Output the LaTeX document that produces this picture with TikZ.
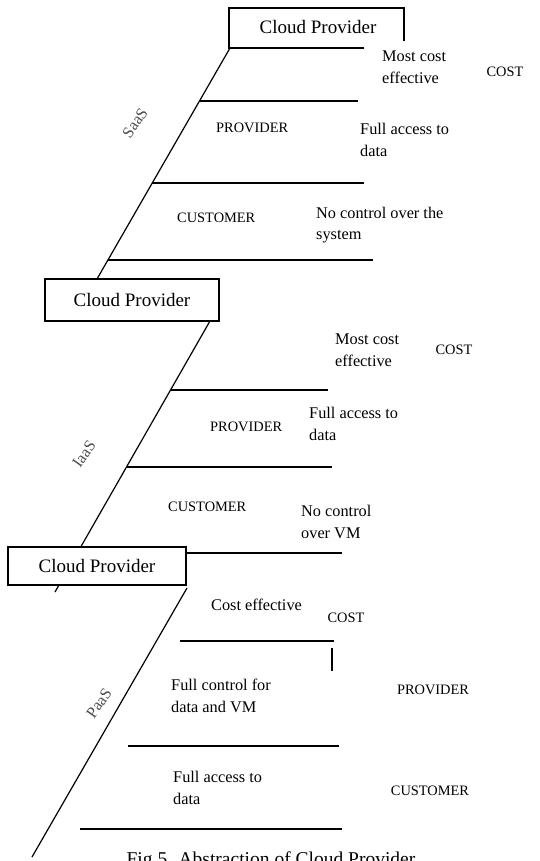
\documentclass[tikz,border=0pt]{standalone}
\usepackage{fontspec}
\setmainfont{Liberation Serif}
\begin{document}
\begin{tikzpicture}[x=1pt,y=-1pt,
  ln/.style={line width=1.2pt},
  cpbox/.style={draw,line width=1.2pt,fill=white,inner sep=0pt,font=\fontsize{19}{22}\selectfont},
  cptext/.style={inner sep=0pt,font=\fontsize{19}{22}\selectfont},
  body/.style={anchor=west,align=left,inner sep=0pt,font=\fontsize{16.3}{21.5}\selectfont},
  caps/.style={inner sep=0pt,font=\fontsize{14.4}{17}\selectfont},
  slab/.style={inner sep=0pt,rotate=55,text=black!70,font=\fontsize{16}{18}\selectfont}]
\useasboundingbox (0,0) rectangle (539,861);
% ---------- SaaS ----------
\node[cptext] (cp1) at (318,27) {Cloud Provider};
\draw[ln] (364,48) -- (229,48) -- (229,8) -- (404,8) -- (404,41);
\coordinate (s0) at (230,48);
\coordinate (s1) at (97,279);
\draw[ln] (s0) -- (s1);
\draw[ln] (200,101) -- (358,101);
\draw[ln] (152,183) -- (364,183);
\draw[ln] (108,260) -- (373,260);
\node[body] (s-mce) at (382,67) {Most cost\\effective};
\node[caps] (s-cost) at (505,72) {COST};
\node[caps,anchor=west] (s-prov) at (216,128) {PROVIDER};
\node[body] (s-fad) at (360,140) {Full access to\\data};
\node[caps,anchor=west] (s-cust) at (177,218) {CUSTOMER};
\node[body] (s-nc) at (316,225) {No control over the\\system};
\node[slab] (saas) at (135,123) {SaaS};
% ---------- IaaS ----------
\coordinate (i0) at (210,321);
\coordinate (i1) at (55,592);
\draw[ln] (i0) -- (i1);
\node[cpbox,minimum width=174pt,minimum height=42pt] (cp2) at (132,300) {Cloud Provider};
\node[body] (i-mce) at (335,350) {Most cost\\effective};
\node[caps] (i-cost) at (454,350) {COST};
\draw[ln] (171,390) -- (328,390);
\node[caps,anchor=west] (i-prov) at (210,427) {PROVIDER};
\node[body] (i-fad) at (309,424) {Full access to\\data};
\draw[ln] (127,467) -- (332,467);
\node[caps,anchor=west] (i-cust) at (168,507) {CUSTOMER};
\node[body] (i-nc) at (301,522) {No control\\over VM};
\node[slab] (iaas) at (84,454) {IaaS};
% ---------- PaaS ----------
\node[cpbox,minimum width=178pt,minimum height=38pt] (cp3) at (97,566) {Cloud Provider};
\draw[ln] (cp3.east |- 0,553) -- (342,553);
\coordinate (p0) at (187,588);
\coordinate (p1) at (32,857);
\draw[ln] (p0) -- (p1);
\node[body] (p-ce) at (211,605) {Cost effective};
\node[caps] (p-cost) at (346,618) {COST};
\draw[ln] (180,641) -- (334,641);
\draw[ln] (332,648) -- (332,671);
\node[body] (p-fc) at (171,696) {Full control for\\data and VM};
\node[caps] (p-prov) at (433,690) {PROVIDER};
\draw[ln] (128,746) -- (339,746);
\node[body] (p-fad) at (173,788) {Full access to\\data};
\node[caps] (p-cust) at (430,791) {CUSTOMER};
\draw[ln] (80,829) -- (342,829);
\node[slab] (paas) at (99,703) {PaaS};
% ---------- caption ----------
\node[anchor=base,inner sep=0pt,font=\fontsize{19.5}{22}\selectfont] (cap) at (271,865) {Fig.5. Abstraction of Cloud Provider};
\end{tikzpicture}
\end{document}
